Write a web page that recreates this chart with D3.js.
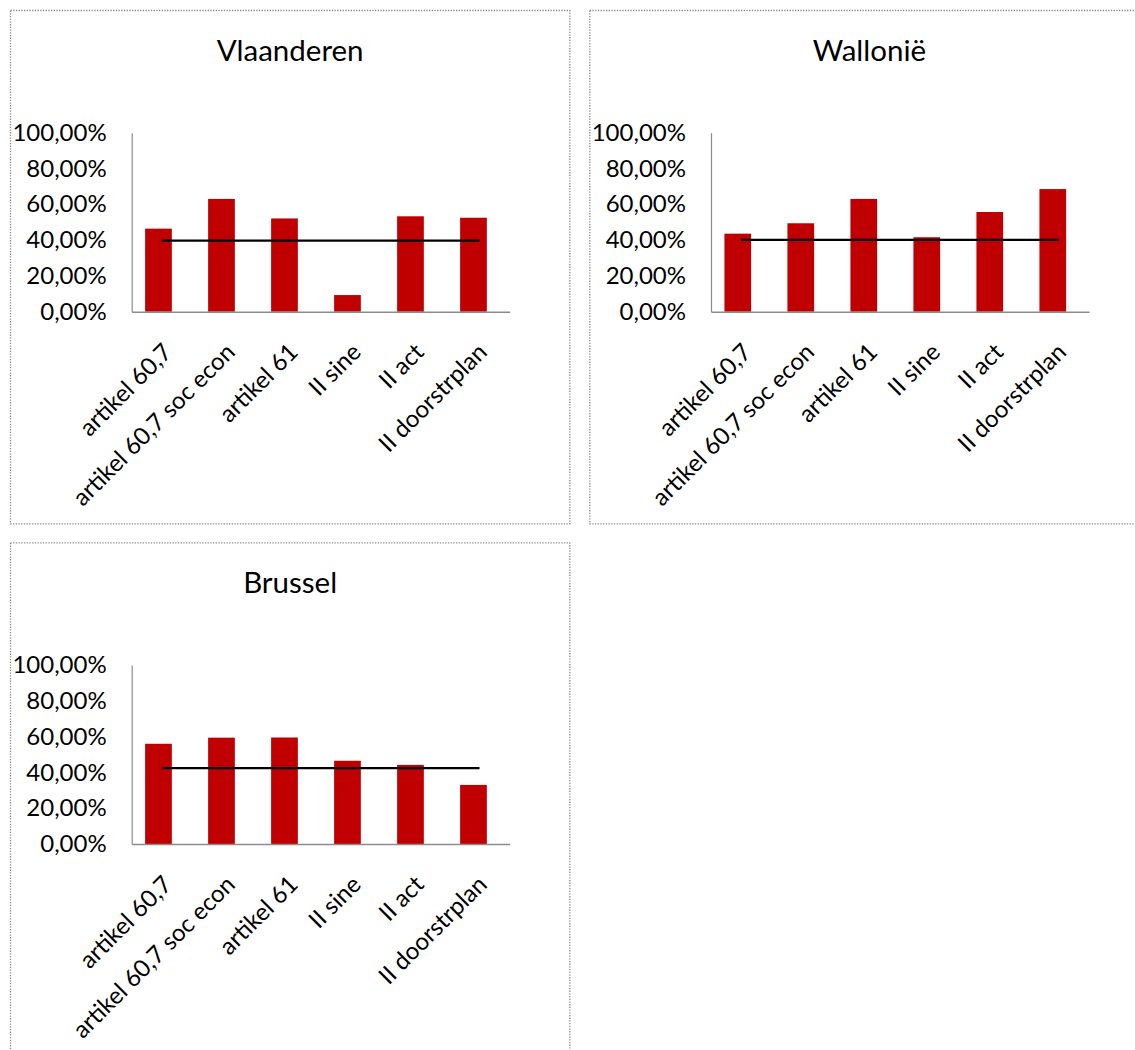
<!DOCTYPE html>
<html>
<head>
<meta charset="utf-8">
<script src="https://cdn.jsdelivr.net/npm/d3@7"></script>
<style>
  body { margin: 0; background: #fff; }
  svg { display: block; }
  text { font-family: Lato, "Open Sans", sans-serif; fill: #000; }
</style>
</head>
<body>
<script>
// Categories shared by all three regions
const categories = ["artikel 60,7", "artikel 60,7 soc econ", "artikel 61", "II sine", "II act", "II doorstrplan"];

// Share per category, one array per region
const vlaanderen = [0.464, 0.630, 0.521, 0.093, 0.533, 0.525];
const wallonie   = [0.436, 0.494, 0.630, 0.416, 0.557, 0.685];
const brussel    = [0.560, 0.594, 0.595, 0.465, 0.442, 0.330];

// Regional average drawn as a flat reference line
const averages = [0.397, 0.401, 0.424];

const regionTitles = ["Vlaanderen", "Wallonië", "Brussel"];
const yTicks = [0, 0.2, 0.4, 0.6, 0.8, 1.0];

const panels = [
  { title: regionTitles[0], values: vlaanderen, avg: averages[0], x: 10,    y: 10 },
  { title: regionTitles[1], values: wallonie,   avg: averages[1], x: 589.3, y: 10 },
  { title: regionTitles[2], values: brussel,    avg: averages[2], x: 10,    y: 542.3 }
];

const W = 1135, H = 1050;
const boxW = 559.3, boxH = 513.3;
const plot = { left: 121.7, top: 122.7, width: 378, height: 179 };
const FONT = "Lato, 'Open Sans', sans-serif";

const nl = d3.formatLocale({ decimal: ",", thousands: ".", grouping: [3], currency: ["€", ""] });
const pct = nl.format(".2%");

const svg = d3.select("body").append("svg").attr("width", W).attr("height", H);

panels.forEach(p => {
  const g = svg.append("g").attr("transform", `translate(${p.x},${p.y})`);

  // dotted chart frame
  g.append("rect")
    .attr("x", 0.5).attr("y", 0.5)
    .attr("width", boxW).attr("height", boxH)
    .attr("fill", "#fff")
    .attr("stroke", "#8a8a8a")
    .attr("stroke-width", 1.3)
    .attr("stroke-dasharray", "1.3,1.4");

  g.append("text")
    .attr("x", boxW / 2 + 0.5).attr("y", 51)
    .attr("text-anchor", "middle")
    .style("font-size", "29.5px")
    .text(p.title);

  const pg = g.append("g").attr("transform", `translate(${plot.left},${plot.top})`);

  const x = d3.scaleBand()
    .domain(categories)
    .range([0, plot.width])
    .paddingInner(0.576)
    .paddingOuter(0.288)
    .align(0.37);

  const xLine = d3.scalePoint()
    .domain(categories)
    .range([0, plot.width])
    .padding(0.475);

  const y = d3.scaleLinear().domain([0, 1]).range([plot.height, 0]);

  // bars
  pg.selectAll("rect.bar")
    .data(p.values)
    .join("rect")
    .attr("class", "bar")
    .attr("x", (d, i) => x(categories[i]))
    .attr("y", d => y(d))
    .attr("width", x.bandwidth())
    .attr("height", d => y(0) - y(d))
    .attr("fill", "#C00000");

  // y axis
  const ya = pg.append("g")
    .call(d3.axisLeft(y).tickValues(yTicks).tickFormat(pct).tickSize(0).tickPadding(25));
  ya.select(".domain").attr("stroke", "#8c8c8c").attr("stroke-width", 1.2);
  ya.selectAll("text").style("font-size", "24px").attr("fill", "#000")
    .style("font-family", FONT);

  // x axis with labels turned 45 degrees
  const xa = pg.append("g")
    .attr("transform", `translate(0,${plot.height})`)
    .call(d3.axisBottom(x).tickSize(0).tickPadding(0));
  xa.select(".domain").attr("stroke", "#8c8c8c").attr("stroke-width", 1.6);
  xa.selectAll(".tick text")
    .style("font-size", "24px")
    .style("font-family", FONT)
    .attr("fill", "#000")
    .attr("text-anchor", "end")
    .attr("dy", "0.35em")
    .attr("transform", "translate(9,36) rotate(-45)")
    .attr("y", 0)
    .attr("x", 0);

  // average line
  const line = d3.line()
    .x((d, i) => xLine(categories[i]))
    .y(d => y(d));
  pg.append("path")
    .datum(categories.map(() => p.avg))
    .attr("d", line)
    .attr("fill", "none")
    .attr("stroke", "#000")
    .attr("stroke-width", 2.2);
});
</script>
</body>
</html>
